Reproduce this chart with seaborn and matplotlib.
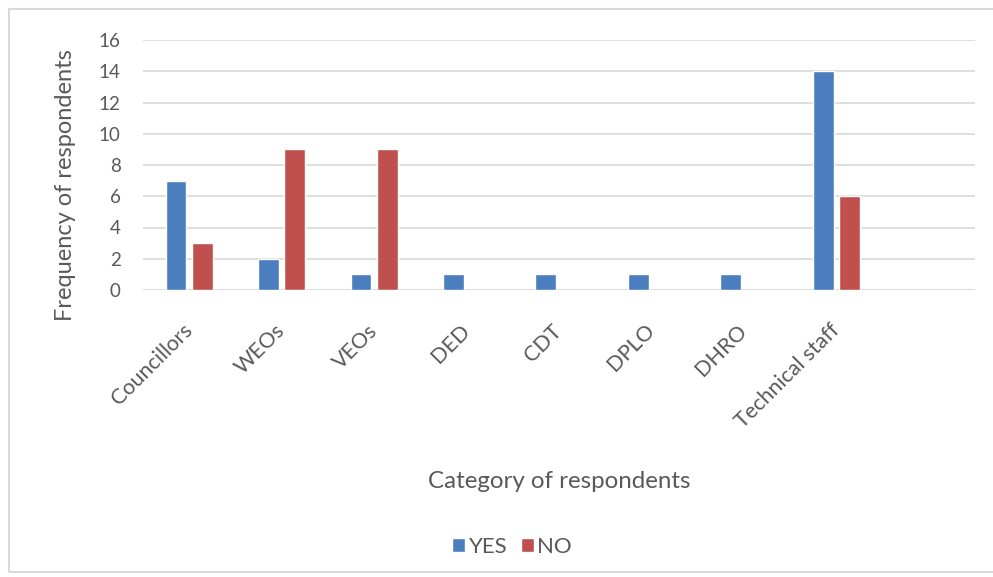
import matplotlib
matplotlib.use("Agg")
import matplotlib.pyplot as plt
from matplotlib.patches import Rectangle
import pandas as pd
import seaborn as sns

# Survey responses by category of respondent
categories = ["Councillors", "WEOs", "VEOs", "DED", "CDT", "DPLO", "DHRO", "Technical staff"]
yes_counts = [7, 2, 1, 1, 1, 1, 1, 14]
no_counts = [3, 9, 9, 0, 0, 0, 0, 6]
y_ticks = [0, 2, 4, 6, 8, 10, 12, 14, 16]

# an extra empty slot keeps room on the right of the last group
order = categories + [" "]

df = pd.DataFrame({
    "category": categories * 2,
    "answer": ["YES"] * len(categories) + ["NO"] * len(categories),
    "count": yes_counts + no_counts,
})
# zero counts are not drawn as bars
df = df[df["count"] > 0]

sns.set_theme(style="white")
plt.rcParams["font.family"] = ["Lato", "DejaVu Sans"]

text_grey = "#595959"
grid_grey = "#d9d9d9"

fig = plt.figure(figsize=(9.93, 5.77), dpi=100)
ax = fig.add_axes([143 / 993, 1 - 290 / 577, (975 - 143) / 993, (290 - 40) / 577])

sns.barplot(
    data=df, x="category", y="count", hue="answer",
    order=order, hue_order=["YES", "NO"],
    palette={"YES": "#4A7EBF", "NO": "#C0504D"},
    width=0.57, gap=0.21, saturation=1, errorbar=None, ax=ax,
)

ax.set_ylim(0, 16)
ax.set_yticks(y_ticks)
ax.yaxis.grid(True, color=grid_grey, linewidth=1.2)
ax.set_axisbelow(True)
for s in ax.spines.values():
    s.set_visible(False)
ax.tick_params(axis="both", length=0, colors=text_grey)
ax.tick_params(axis="y", labelsize=13.5, pad=16)
ax.axhline(0, color=grid_grey, linewidth=1.2, zorder=0)

ax.set_xticks(range(len(order)))
ax.set_xticklabels(order, rotation=45, ha="right", va="center",
                   rotation_mode="anchor", fontsize=15.5, color=text_grey)
ax.tick_params(axis="x", pad=27)

ax.set_xlabel("Category of respondents", fontsize=17.4, color=text_grey, labelpad=0)
ax.xaxis.set_label_coords(0.5, -0.724)
ax.set_ylabel("Frequency of respondents", fontsize=17, color=text_grey)
ax.yaxis.set_label_coords(-0.080, 0.42)

handles, labels = ax.get_legend_handles_labels()
ax.get_legend().remove()
fig.legend(handles, labels, loc="center", bbox_to_anchor=(512 / 993, 1 - 547 / 577),
           ncol=2, frameon=False, fontsize=16, labelcolor=text_grey,
           handlelength=0.6, handleheight=0.6, handletextpad=0.15, columnspacing=0.6)

# light frame around the chart area
fig.patches.append(Rectangle((9 / 993, 5 / 577), 1.2, 1 - 14 / 577,
                             transform=fig.transFigure, fill=False,
                             edgecolor=grid_grey, linewidth=1.5))

fig.savefig("out.png", dpi=100)
